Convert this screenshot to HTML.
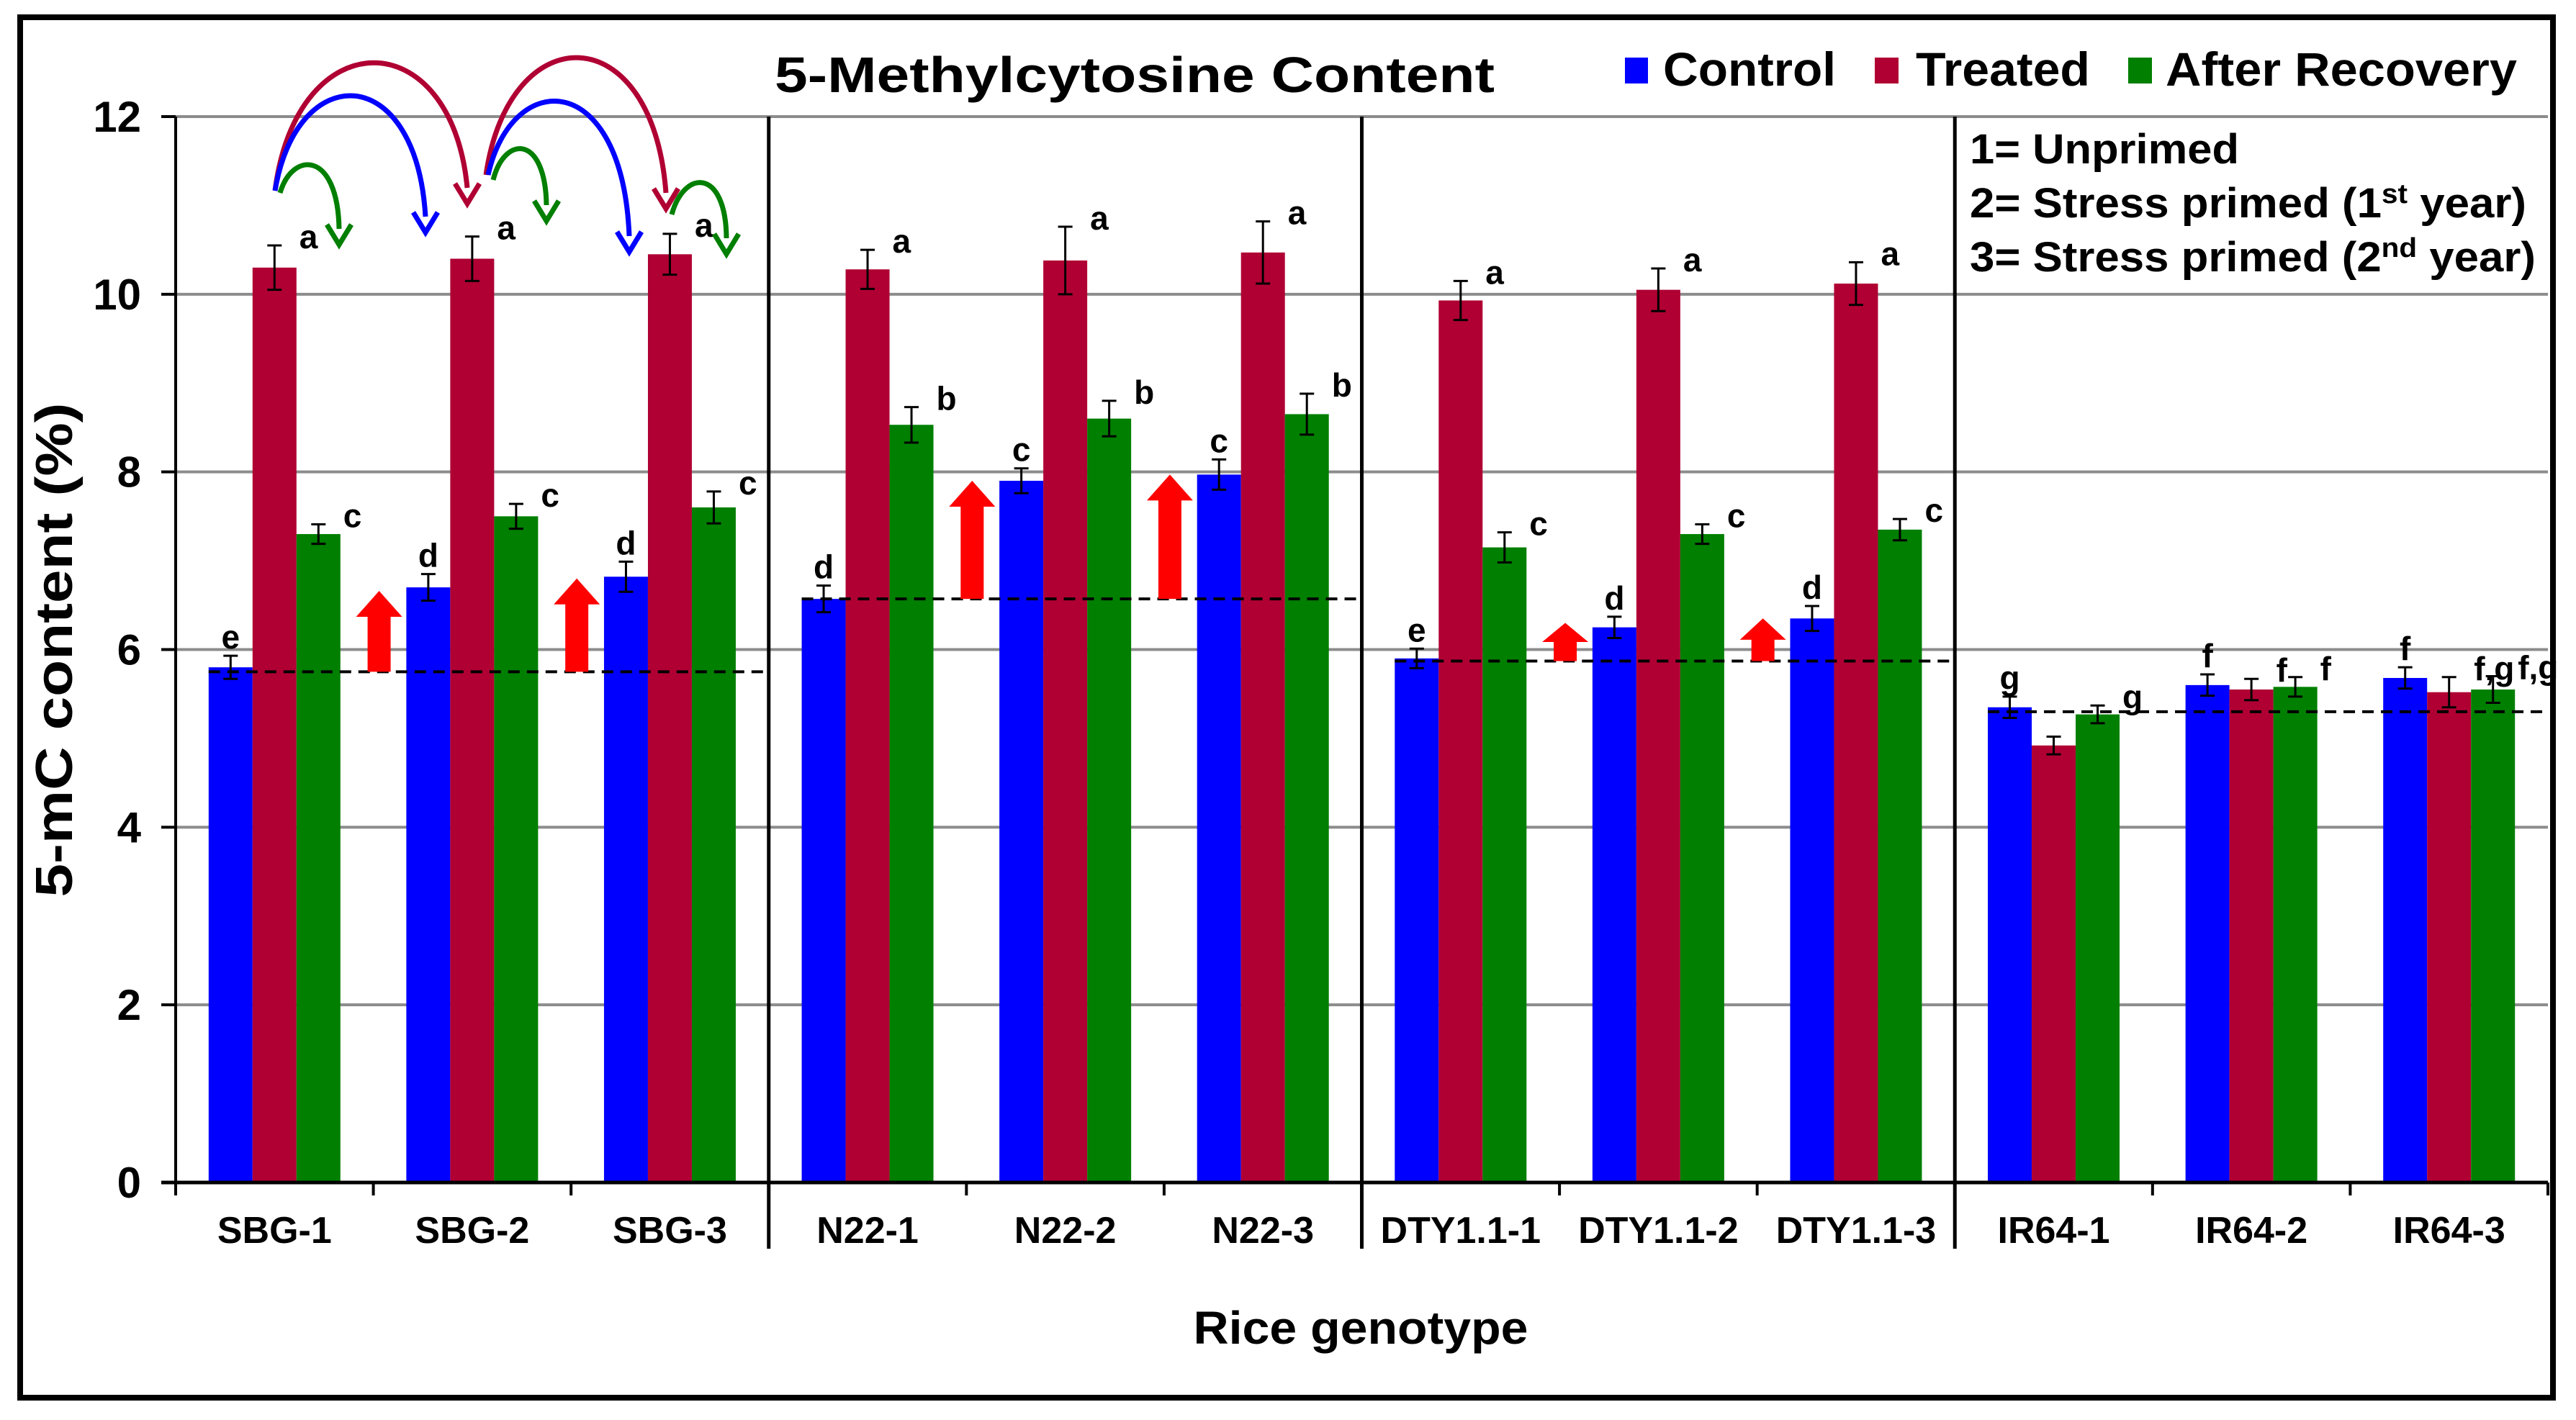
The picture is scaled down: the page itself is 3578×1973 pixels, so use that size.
<!DOCTYPE html>
<html><head><meta charset="utf-8"><style>
html,body{margin:0;padding:0;background:#fff;}
svg{display:block;font-family:"Liberation Sans",Arial,sans-serif;font-weight:bold;}
</style></head><body>
<svg id="chart" width="3578" height="1973" viewBox="0 0 3578 1973" xmlns="http://www.w3.org/2000/svg">
<rect x="0" y="0" width="3578" height="1973" fill="#fff"/>
<rect x="28" y="24" width="3518" height="1918" fill="none" stroke="#000" stroke-width="8"/>
<g id="grid"></g>
<g id="bars"></g>
<g id="deco"></g>
<g id="axes"></g>
<text x="1576" y="128" font-size="70" text-anchor="middle" textLength="1000" lengthAdjust="spacingAndGlyphs">5-Methylcytosine Content</text>
<g>
<rect x="2257" y="80" width="32" height="36" fill="#0000FF"/>
<text x="2310" y="119" font-size="66" textLength="240" lengthAdjust="spacingAndGlyphs">Control</text>
<rect x="2604" y="80" width="33" height="36" fill="#B00033"/>
<text x="2661" y="119" font-size="66" textLength="242" lengthAdjust="spacingAndGlyphs">Treated</text>
<rect x="2956" y="80" width="33" height="36" fill="#007F00"/>
<text x="3008" y="119" font-size="66" textLength="488" lengthAdjust="spacingAndGlyphs">After Recovery</text>
</g>
<g font-size="58">
<text x="2736" y="227" textLength="374" lengthAdjust="spacingAndGlyphs">1= Unprimed</text>
<text x="2736" y="302" textLength="773" lengthAdjust="spacingAndGlyphs">2= Stress primed (1<tspan dy="-20" font-size="38">st</tspan><tspan dy="20"> year)</tspan></text>
<text x="2736" y="377" textLength="786" lengthAdjust="spacingAndGlyphs">3= Stress primed (2<tspan dy="-20" font-size="38">nd</tspan><tspan dy="20"> year)</tspan></text>
</g>
<text transform="translate(100,903) rotate(-90)" font-size="72" text-anchor="middle" textLength="687" lengthAdjust="spacingAndGlyphs">5-mC content (%)</text>
<text x="1890" y="1867" font-size="64" text-anchor="middle" textLength="465" lengthAdjust="spacingAndGlyphs">Rice genotype</text>
</svg>
<script>
const categories = ["SBG-1","SBG-2","SBG-3","N22-1","N22-2","N22-3","DTY1.1-1","DTY1.1-2","DTY1.1-3","IR64-1","IR64-2","IR64-3"];
const controlValues = [5.8,6.7,6.82,6.57,7.9,7.97,5.9,6.25,6.35,5.35,5.6,5.68];
const treatedValues = [10.3,10.4,10.45,10.28,10.38,10.47,9.93,10.05,10.12,4.92,5.55,5.52];
const recoveryValues = [7.3,7.5,7.6,8.53,8.6,8.65,7.15,7.3,7.35,5.27,5.58,5.55];
const controlErrors = [0.13,0.15,0.17,0.15,0.14,0.17,0.11,0.12,0.14,0.12,0.12,0.12];
const treatedErrors = [0.25,0.25,0.23,0.22,0.38,0.35,0.22,0.24,0.24,0.1,0.12,0.17];
const recoveryErrors = [0.11,0.14,0.18,0.2,0.2,0.23,0.17,0.11,0.12,0.1,0.11,0.15];
const controlLetters = ["e","d","d","d","c","c","e","d","d","g","f","f"];
const treatedLetters = ["a","a","a","a","a","a","a","a","a","h","f","f,g"];
const recoveryLetters = ["c","c","c","b","b","b","c","c","c","g","f","f,g"];
const groupBaselines = [5.75,6.57,5.87,5.3];
const arrowTops = [6.66,6.8,7.9,7.97,6.3,6.35];
const yTicks = [0,2,4,6,8,10,12];

const NS="http://www.w3.org/2000/svg";
const X0=244, X1=3539, Y0=1643, Y12=162;
const catW=(X1-X0)/categories.length, barW=61, pad=(catW-3*barW)/2;
function yScale(v){return Y0-(v/12)*(Y0-Y12);}
function catX(i){return X0+i*catW;}
function mk(tag,attrs,parent){const e=document.createElementNS(NS,tag);for(const k in attrs)e.setAttribute(k,attrs[k]);parent.appendChild(e);return e;}
const grid=document.getElementById('grid'),bars=document.getElementById('bars'),deco=document.getElementById('deco'),axes=document.getElementById('axes');

yTicks.forEach(t=>{
  if(t>0){const g=mk('line',{x1:X0,x2:X1,y1:yScale(t),y2:yScale(t),stroke:'#8c8c8c','stroke-width':4},grid);
  
  }
  const tk=mk('line',{x1:X0-20,x2:X0,y1:yScale(t),y2:yScale(t),stroke:'#000','stroke-width':4},axes);
  
  
  const tl=mk('text',{x:196,y:yScale(t)+21,'font-size':60,'text-anchor':'end'},axes);
  tl.textContent=t;
  
  
});

const series=[[controlValues,controlErrors,controlLetters,'#0000FF','control'],[treatedValues,treatedErrors,treatedLetters,'#B00033','treated'],[recoveryValues,recoveryErrors,recoveryLetters,'#007F00','recovery']];
categories.forEach((c,i)=>{
  series.forEach((s,j)=>{
    const v=s[0][i],e=s[1][i];
    const x=catX(i)+pad+j*barW;
    const r=mk('rect',{x:x,y:yScale(v),width:barW,height:Y0-yScale(v),fill:s[3]},bars);
    
    
    const cx=x+barW/2, yt=yScale(v+e), yb=yScale(v-e);
    const eb=mk('path',{d:`M${cx},${yt}V${yb}M${cx-10},${yt}H${cx+10}M${cx-10},${yb}H${cx+10}`,stroke:'#000','stroke-width':3,fill:'none'},bars);
    
    
    const lx = j===0 ? cx : x+barW+4;
    const ly = j===0 ? yt-10 : yt+4;
    const lt=mk('text',{x:lx,y:ly,'font-size':46,'text-anchor':j===0?'middle':'start'},bars);
    lt.textContent=s[2][i];
    
    
  });
  const tk=mk('line',{x1:catX(i),x2:catX(i),y1:Y0,y2:Y0+18,stroke:'#000','stroke-width':4},axes);
  
  
  const xl=mk('text',{x:catX(i)+catW/2,y:1727,'font-size':52,'text-anchor':'middle'},axes);
  xl.textContent=c;
  
  
});
const endTick=mk('line',{x1:X1,x2:X1,y1:Y0,y2:Y0+18,stroke:'#000','stroke-width':4},axes);


const xa=mk('line',{x1:X0-20,x2:X1,y1:Y0,y2:Y0,stroke:'#000','stroke-width':5},axes);


const ya=mk('line',{x1:X0,x2:X0,y1:Y12,y2:Y0+18,stroke:'#000','stroke-width':4},axes);


[3,6,9].forEach(k=>{
  const d=mk('line',{x1:catX(k),x2:catX(k),y1:Y12,y2:1735,stroke:'#000','stroke-width':5},axes);
  
  
});
groupBaselines.forEach((b,g)=>{
  const xs=catX(g*3)+pad, xe=(g<3?catX(g*3+3):X1);
  const l=mk('line',{x1:xs,x2:xe,y1:yScale(b),y2:yScale(b),stroke:'#000','stroke-width':4,'stroke-dasharray':'16,10'},deco);
  
  
});
arrowTops.forEach((t,k)=>{
  const g=Math.floor(k/2), b=groupBaselines[g];
  const ci=g*3+(k%2)+1;
  const cx=catX(ci)+8, yb=yScale(b), yt=yScale(t);
  const hh=Math.min(36,(yb-yt)*0.5);
  const a=mk('path',{d:`M${cx-16},${yb}V${yt+hh}H${cx-32}L${cx},${yt}L${cx+32},${yt+hh}H${cx+16}V${yb}Z`,fill:'#FF0000'},deco);
  
  
});
const arcs=[
 [382,265,502,90,649,283,'#B00033'],[382,265,502,136,591,323,'#0000FF'],[389,268,458,233,471,340,'#007F00'],
 [675,243,803,83,925,290,'#B00033'],[678,243,810,145,874,350,'#0000FF'],[685,250,749,210,759,307,'#007F00'],
 [933,298,1004,257,1009,353,'#007F00']];
arcs.forEach((p,k)=>{
  const [sx,sy,px,py,ex,ey,col]=p;
  const c=(8*py-sy-ey)/6;
  const cx1=sx+(px-sx)*0.25, cx2=ex-(ex-px)*0.15;
  const path=mk('path',{d:`M${sx},${sy}C${cx1},${c} ${cx2},${c} ${ex},${ey-22}`,fill:'none',stroke:col,'stroke-width':7},deco);
  
  
  const h=mk('path',{d:`M${ex-17},${ey-28}L${ex},${ey}L${ex+17},${ey-28}`,fill:'none',stroke:col,'stroke-width':7},deco);
  
  
});
</script>
</body></html>
